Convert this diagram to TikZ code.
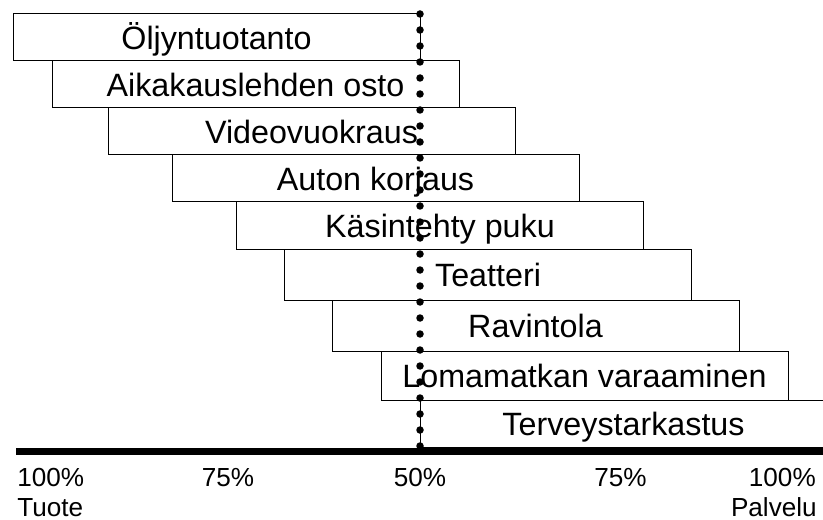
\documentclass[tikz,border=0pt]{standalone}
\usepackage{fontspec}
\setmainfont{Liberation Sans}
\newdimen\px \px=0.75pt
\begin{document}
\begin{tikzpicture}[x=0.75pt,y=-0.75pt,
  barbox/.style={draw=black, line width=1\px, fill=white, minimum width=407\px,
    inner sep=0pt, outer sep=0pt, text height=17.3pt, text depth=0pt,
    font=\fontsize{24.2}{29}\selectfont},
  axlabel/.style={inner sep=0pt, font=\fontsize{19.6}{23}\selectfont}]
\useasboundingbox (0,0) rectangle (823,520);
\clip (0,0) rectangle (823,520);
\node[barbox, minimum height=47\px] (b1) at (216.5,37.5) {Öljyntuotanto};
\node[barbox, minimum height=47\px] (b2) at (255.5,84.5) {Aikakauslehden osto};
\node[barbox, minimum height=47\px] (b3) at (311.5,131.5) {Videovuokraus};
\node[barbox, minimum height=47\px] (b4) at (375.5,178.5) {Auton korjaus};
\node[barbox, minimum height=47\px] (b5) at (440,225.5) {Käsintehty puku};
\node[barbox, minimum height=51\px] (b6) at (488,274.5) {Teatteri};
\node[barbox, minimum height=51\px] (b7) at (535.5,325.5) {Ravintola};
\node[barbox, minimum height=49\px] (b8) at (584.5,375.5) {Lomamatkan varaaminen};
\node[barbox, minimum height=47\px] (b9) at (623.5,423.5) {Terveystarkastus};
% dotted 50% line
\coordinate (dtop) at (420,14);
\coordinate (dbot) at (420,447);
\draw[line width=7.5\px, line cap=round, dash pattern=on 0pt off 16\px] (dtop) -- (dbot);
% axis
\coordinate (axl) at (16,451.5);
\coordinate (axr) at (823,451.5);
\draw[line width=7.5\px] (axl) -- (axr);
% labels
\node[axlabel, anchor=base west] (l1) at (17,486) {100\%};
\node[axlabel, anchor=base west] (l1b) at (17,516.5) {Tuote};
\node[axlabel, anchor=base] (l2) at (228,486) {75\%};
\node[axlabel, anchor=base] (l3) at (420,486) {50\%};
\node[axlabel, anchor=base] (l4) at (620.5,486) {75\%};
\node[axlabel, anchor=base east] (l5) at (816,486) {100\%};
\node[axlabel, anchor=base east] (l5b) at (817,516.5) {Palvelu};
\end{tikzpicture}
\end{document}
